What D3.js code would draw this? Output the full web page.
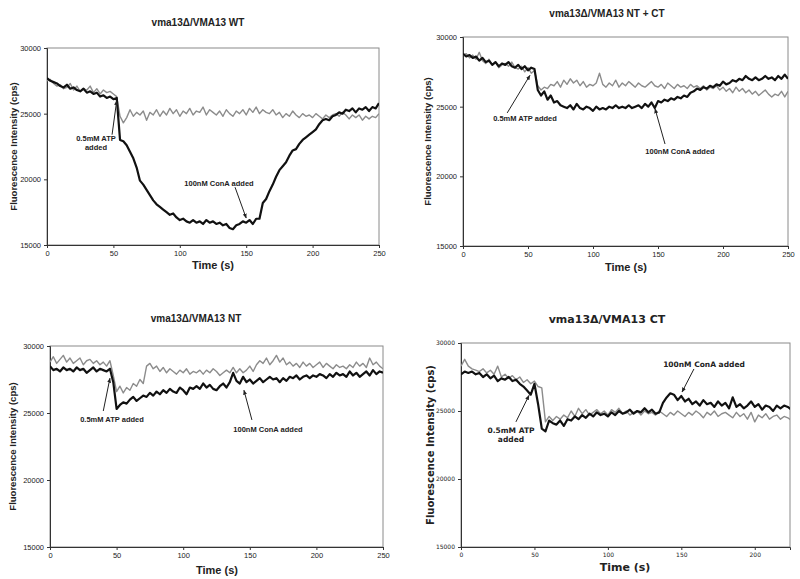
<!DOCTYPE html>
<html><head><meta charset="utf-8">
<script src="https://cdn.jsdelivr.net/npm/d3@7"></script>
<style>body{margin:0;background:#fff}svg{display:block}</style>
</head><body>
<script>
// ---- data (fluorescence intensity, cps), sampled every 2.5 s ----
const step = 2.5;
const wtBlack = [27700,27500,27400,27300,27100,27000,27200,26900,27000,26800,26700,26900,26600,26700,26500,26600,26300,26400,26200,26300,26100,26200,23000,22900,22600,22100,21600,20900,19900,19600,19200,18800,18400,18100,17900,17700,17500,17300,17400,17100,16900,17000,16800,16700,16900,16700,16800,16600,16900,16700,16800,16600,16700,16500,16600,16300,16200,16500,16600,16800,16700,16900,16600,17000,17000,18200,18500,19100,19600,20200,20700,21000,21300,21800,22200,22300,22700,23000,23200,23400,23600,23800,24200,24500,24600,24500,24800,24900,25100,25000,25300,25200,25400,25100,25400,25300,25500,25200,25500,25400,25800];
const wtGray = [27500,27600,27300,27100,27200,26900,27000,27300,26800,27100,26700,26900,26800,27100,26600,26900,26500,26800,26600,26700,26500,26300,24800,24300,24700,25300,24800,25100,24900,25200,24500,25100,24900,25300,24800,25200,24900,25400,25000,25300,24800,25200,25000,25400,24900,25200,25100,25500,24900,25300,25100,24900,25200,24800,25300,25000,24800,25200,25000,25300,24900,25400,25100,25500,25000,25300,25100,25000,25300,24900,25100,24700,25000,24800,25200,24900,24700,25000,24800,24900,24700,25000,24800,24600,24900,24700,24900,25000,24800,25100,24900,24600,24900,24700,24900,24500,24800,24600,24800,24700,25000];
const ntctBlack = [28800,28600,28700,28500,28600,28300,28500,28200,28300,28000,28200,27900,28100,28000,28200,27900,27800,28000,27700,27900,27600,27800,27700,26200,25800,26100,25500,25800,25300,25400,25100,25000,24900,25100,24800,25200,24900,24800,25000,24900,24700,25000,24800,24900,24800,25000,24900,25100,24900,25000,24900,25100,24900,25000,25100,24900,25200,25000,25300,24900,25400,25300,25500,25400,25600,25500,25700,25600,25800,25700,26000,26100,26300,26200,26400,26300,26500,26400,26600,26500,26800,26600,26700,26900,26800,27000,26900,27200,27000,26900,27100,26900,27000,27200,27000,27100,26900,27200,27000,27300,27000];
const ntctGray = [28700,28800,28500,28700,28400,28900,28300,28100,28400,28000,28200,27800,28000,28100,27900,28200,27800,27700,27900,27500,27800,27400,27600,26500,26200,26400,26300,26600,26500,26800,26400,26900,26600,27000,26700,26900,26500,26800,26400,26600,26500,26700,27400,26600,26400,26700,26500,26900,26400,26700,26500,26800,26600,26400,26700,26500,26400,26600,26800,26500,26400,26600,26300,26700,26500,26300,26600,26400,26500,26300,26600,26400,26500,26300,26500,26200,26400,26300,26500,26200,26400,26100,26300,26000,26400,26100,26300,26000,26200,25900,26100,25800,26000,26200,25900,25700,25900,25800,26100,25700,26100];
const ntBlack = [28500,28200,28300,28100,28400,28200,28300,28100,28400,28200,28300,28000,28200,28400,28100,28300,28200,28100,28300,27300,25300,25600,25800,25700,26000,26200,25900,26100,26300,26200,26500,26300,26600,26400,26700,26500,26800,26600,26500,26900,26700,26400,26900,26800,27000,26800,27200,26900,27100,26800,26700,27000,27200,26900,27300,28000,27400,27200,27700,27300,27500,27200,27400,27600,27300,27500,27700,27500,27600,27300,27600,27400,27700,27600,27800,27500,27700,27800,27600,27800,27700,27900,27800,27600,27900,27700,28000,27800,27900,27700,28100,27800,28000,27700,27900,28100,27800,28200,27900,28100,28000];
const ntGray = [28800,29200,28700,29000,29300,28800,29100,28700,28900,29100,28600,28900,29000,28700,28900,28600,28800,28500,28900,27800,26600,27000,26500,26900,26700,27200,27000,27500,27200,28500,28700,28300,28500,28100,28400,28000,28300,28100,27900,28200,28000,28300,27900,28100,28000,28200,27900,28200,28000,28300,28100,27800,28000,28200,28000,28400,28000,28300,28000,28200,28500,28100,28600,28900,28700,29100,28600,28900,29300,28800,29100,28600,28800,28500,28700,28400,28800,28500,28700,28400,28600,28800,28400,28700,28500,28300,28600,28400,28500,28300,28600,28400,28800,28500,28700,28400,29100,28600,28800,28500,28300];
const ctBlack = [27700,27900,27800,27900,27700,27800,27500,27700,27400,27600,27200,27400,27300,27500,27200,27300,27000,26800,26500,26200,27000,25500,23700,23500,24300,24100,24000,24300,23900,24400,24300,24600,24400,24700,24500,24800,24600,24900,24700,24800,24600,24900,24700,25000,24800,24900,25100,24800,25000,24900,25200,24900,25100,24800,24900,25600,26000,26300,26200,25800,26100,25700,25900,25500,25700,25400,25800,25500,25600,25300,25700,25400,25600,25200,26000,25300,25500,25200,25400,25700,25300,25500,25100,25400,25300,25000,25400,25200,25400,25300,25100];
const ctGray = [28300,28800,28300,28100,28000,27900,28100,27800,28000,27700,28300,27500,27700,27400,27600,27300,27500,27100,27300,27000,27200,26800,26700,24200,24600,24300,24600,24400,24700,24500,25000,24600,25200,24800,25100,24700,24900,25100,24800,25000,24700,25100,24900,25200,24800,25000,24700,24900,25000,24700,25000,24800,24900,24700,25000,24800,24600,24900,24700,25000,24800,24600,24900,24700,25000,24800,24500,24900,24700,25000,24600,24800,24900,24700,24500,24900,24600,24800,24400,24900,24200,24700,24500,24800,24400,24600,24700,24400,24600,24500,24300];

const titles = ["vma13\u0394/VMA13 WT","vma13\u0394/VMA13 NT + CT","vma13\u0394/VMA13 NT","vma13\u0394/VMA13 CT"];
const yTicks = [15000,20000,25000,30000];
const xTicks = [0,50,100,150,200,250];
const xMax = [250,250,250,224];
const atpText = [["0.5mM ATP","added"],["0.5mM ATP added"],["0.5mM ATP added"],["0.5mM ATP","added"]];
const conaText = ["100nM ConA added","100nM ConA added","100nM ConA added","100nM ConA added"];
// arrows: [tailTime, tailValue, tipTime, tipValue]
const atpArrow = [[49,23400,52.5,26000],[34,24550,51.5,27250],[40,25150,45,27600],[37.4,24200,46.3,26150]];
const conaArrow = [[141.6,19400,150,17050],[155.4,22320,147.7,24850],[151.6,24480,145.6,26700],[158.6,28090,150.5,26400]];

// ---- layout ----
const panels = [
  {l:47,r:379,t:48,b:245, black:wtBlack, gray:wtGray, font:"Liberation Sans, Arial, sans-serif", titleX:198,titleY:26,titleSize:10, tickSize:7.5, ylabX:14, ylabSize:9.5, xlabX:213, xlabY:269, xlabSize:11,
   atp:{x:96,y:141}, cona:{x:219,y:186}},
  {l:463,r:788,t:37,b:246, black:ntctBlack, gray:ntctGray, font:"Liberation Sans, Arial, sans-serif", titleX:607,titleY:17,titleSize:10, tickSize:7.5, ylabX:428, ylabSize:9.5, xlabX:626, xlabY:271, xlabSize:11,
   atp:{x:525,y:121}, cona:{x:680,y:154}},
  {l:50,r:383,t:346,b:547, black:ntBlack, gray:ntGray, font:"Liberation Sans, Arial, sans-serif", titleX:196,titleY:322,titleSize:10, tickSize:7.5, ylabX:13, ylabSize:9.5, xlabX:217, xlabY:574, xlabSize:11,
   atp:{x:112,y:422}, cona:{x:268,y:432}},
  {l:461,r:790,t:343,b:547, black:ctBlack, gray:ctGray, font:"DejaVu Sans, Verdana, sans-serif", titleX:607,titleY:323,titleSize:11, tickSize:6, ylabX:430, ylabSize:10, xlabX:625, xlabY:571, xlabSize:11,
   atp:{x:511,y:433}, cona:{x:704,y:367}}
];

const svg = d3.select("body").append("svg").attr("width",800).attr("height",579);
const defs = svg.append("defs");
defs.append("marker").attr("id","ah").attr("viewBox","0 0 10 10").attr("refX",9).attr("refY",5)
  .attr("markerWidth",5).attr("markerHeight",5).attr("orient","auto")
  .append("path").attr("d","M0,1 L10,5 L0,9 Z").attr("fill","#222");

panels.forEach((p,i)=>{
  const x = d3.scaleLinear().domain([0,xMax[i]]).range([p.l,p.r]);
  const y = d3.scaleLinear().domain([15000,30000]).range([p.b,p.t]);
  const g = svg.append("g").attr("font-family",p.font);
  const cid = "clip"+i;
  defs.append("clipPath").attr("id",cid).append("rect").attr("x",p.l).attr("y",p.t-3).attr("width",p.r-p.l).attr("height",p.b-p.t+3);

  // frame
  g.append("rect").attr("x",p.l).attr("y",p.t).attr("width",p.r-p.l).attr("height",p.b-p.t)
    .attr("fill","none").attr("stroke","#8a8a8a").attr("stroke-width",1);

  const xt = xTicks.filter(v=>v<=xMax[i]);
  const xa = g.append("g").attr("transform",`translate(0,${p.b})`)
    .call(d3.axisBottom(x).tickValues(xt).tickSize(3).tickPadding(3).tickFormat(d3.format("d")));
  const ya = g.append("g").attr("transform",`translate(${p.l},0)`)
    .call(d3.axisLeft(y).tickValues(yTicks).tickSize(3).tickPadding(3).tickFormat(d3.format("d")));
  [xa,ya].forEach(a=>{
    a.select(".domain").attr("stroke","#333");
    a.selectAll(".tick line").attr("stroke","#333");
    a.selectAll(".tick text").attr("font-size",p.tickSize).attr("fill","#222").attr("font-family",p.font);
  });

  const line = d3.line().x((d,k)=>x(k*step)).y(d=>y(d));
  const lg = g.append("g").attr("clip-path",`url(#${cid})`);
  lg.append("path").datum(p.gray).attr("d",line).attr("fill","none").attr("stroke","#8c8c8c").attr("stroke-width",1.4).attr("stroke-linejoin","round");
  lg.append("path").datum(p.black).attr("d",line).attr("fill","none").attr("stroke","#111").attr("stroke-width",2.2).attr("stroke-linejoin","round");

  // titles and axis labels
  g.append("text").attr("x",p.titleX).attr("y",p.titleY).attr("text-anchor","middle")
    .attr("font-size",p.titleSize).attr("font-weight","bold").attr("fill","#222").text(titles[i]);
  g.append("text").attr("x",p.xlabX).attr("y",p.xlabY).attr("text-anchor","middle")
    .attr("font-size",p.xlabSize).attr("font-weight","bold").attr("fill","#222").text("Time (s)");
  g.append("text").attr("transform",`translate(${p.ylabX},${(p.t+p.b)/2}) rotate(-90)`).attr("text-anchor","middle")
    .attr("dy","0.35em").attr("font-size",p.ylabSize).attr("font-weight","bold").attr("fill","#222").text("Fluorescence Intensity (cps)");

  // annotations
  const annSize = i===3 ? 7.5 : 7.5;
  const at = g.append("text").attr("text-anchor","middle").attr("font-size",annSize).attr("font-weight","bold").attr("fill","#222");
  atpText[i].forEach((s,k)=> at.append("tspan").attr("x",p.atp.x).attr("y",p.atp.y+k*9).text(s));
  g.append("text").attr("x",p.cona.x).attr("y",p.cona.y).attr("text-anchor","middle").attr("font-size",annSize)
    .attr("font-weight","bold").attr("fill","#222").text(conaText[i]);
  [atpArrow[i],conaArrow[i]].forEach(a=>{
    g.append("line").attr("x1",x(a[0])).attr("y1",y(a[1])).attr("x2",x(a[2])).attr("y2",y(a[3]))
      .attr("stroke","#222").attr("stroke-width",1).attr("marker-end","url(#ah)");
  });
});
</script>
</body></html>
